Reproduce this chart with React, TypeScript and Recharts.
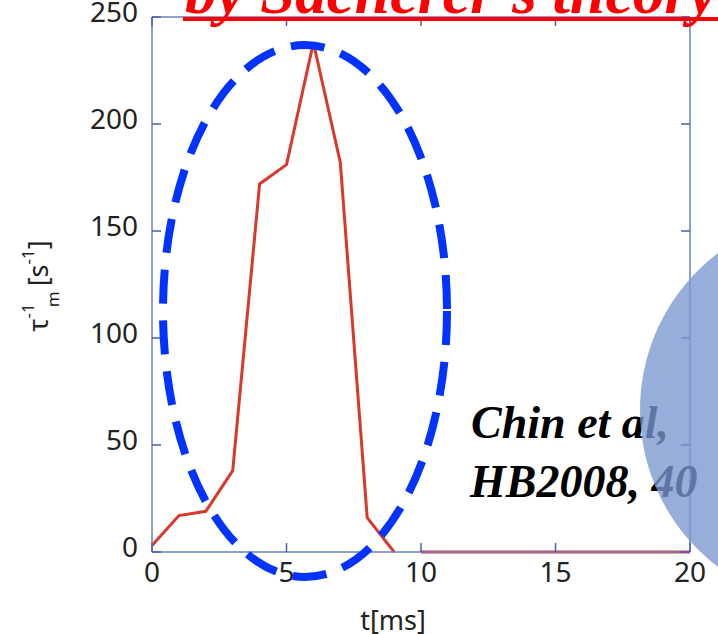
import { Label, Line, LineChart, XAxis, YAxis } from 'recharts';

// growth rate vs time, 1 ms steps
const times = [0, 1, 2, 3, 4, 5, 6, 7, 8, 9, 10, 11, 12, 13, 14, 15, 16, 17, 18, 19, 20];
const rateEarly = [3, 17, 19, 38, 172, 181, 238, 182, 16, 0];
const rateLate = [0, 0, 0, 0, 0, 0, 0, 0, 0, 0, 0];
const lateStart = 10;

const xTicks = [0, 5, 10, 15, 20];
const yTicks = [0, 50, 100, 150, 200, 250];

const data = times.map((t, i) => ({
    t,
    early: i < rateEarly.length ? rateEarly[i] : null,
    late: t >= lateStart ? rateLate[t - lateStart] : null,
}));

const W = 718;
const H = 634;
const margin = { top: 17, right: 28, bottom: 0, left: 0 };
const Y_AXIS_W = 152;
const X_AXIS_H = 82;
// plot box edges
const LEFT = margin.left + Y_AXIS_W;
const RIGHT = W - margin.right;
const TOP = margin.top;
const BOTTOM = H - margin.bottom - X_AXIS_H;

const FRAME = '#6b7fc0';
const TICK = '#4a5eb0';
const TICK_LEN = 9;
const tickFont = { fontSize: 28, fill: '#222', fontFamily: 'Noto Sans' };

// tick labels outside, tick marks pointing inward on both sides of the box
const XTick = (props: any) => {
    const { x, y, payload } = props;
    return (
        <g>
            <line x1={x} x2={x} y1={BOTTOM} y2={BOTTOM - TICK_LEN} stroke={TICK} strokeWidth={1.5} />
            <line x1={x} x2={x} y1={TOP} y2={TOP + TICK_LEN} stroke={TICK} strokeWidth={1.5} />
            <text x={x} y={y} dy="0.71em" textAnchor="middle" {...tickFont}>
                {payload.value}
            </text>
        </g>
    );
};

const YTick = (props: any) => {
    const { x, y, payload } = props;
    return (
        <g>
            <line x1={LEFT} x2={LEFT + TICK_LEN} y1={y} y2={y} stroke={TICK} strokeWidth={1.5} />
            <line x1={RIGHT} x2={RIGHT - TICK_LEN} y1={y} y2={y} stroke={TICK} strokeWidth={1.5} />
            <text x={x} y={y - 5} dy="0.355em" textAnchor="end" {...tickFont}>
                {payload.value}
            </text>
        </g>
    );
};

const YTitle = () => {
    const cx = 48;
    const cy = 286;
    return (
        <text
            transform={`rotate(-90, ${cx}, ${cy})`}
            x={cx}
            y={cy}
            textAnchor="middle"
            fill="#222"
            fontFamily="Noto Sans"
        >
            <tspan fontSize={27}>τ</tspan>
            <tspan fontSize={17} dy={-14}>-1</tspan>
            <tspan fontSize={17} dx={-4} dy={25}>m</tspan>
            <tspan fontSize={27} dx={5} dy={-11}>[s</tspan>
            <tspan fontSize={17} dy={-14}>-1</tspan>
            <tspan fontSize={27} dy={14}>]</tspan>
        </text>
    );
};

export default function App() {
    return (
        <div style={{ position: 'absolute', left: 0, top: 0, width: W, height: H, background: '#fff' }}>
            <LineChart width={W} height={H} data={data} margin={margin}>
                <XAxis
                    xAxisId="b"
                    dataKey="t"
                    type="number"
                    domain={[0, 20]}
                    ticks={xTicks}
                    stroke={FRAME}
                    strokeWidth={1.5}
                    tickLine={false}
                    tickSize={0}
                    tickMargin={10}
                    tick={XTick}
                    height={X_AXIS_H}
                >
                    <Label value="t[ms]" position="insideBottom" offset={4} dx={-28} style={{ fontSize: 27, fill: '#222', fontFamily: 'Noto Sans' }} />
                </XAxis>
                <XAxis
                    xAxisId="top"
                    orientation="top"
                    dataKey="t"
                    type="number"
                    domain={[0, 20]}
                    mirror
                    stroke={FRAME}
                    strokeWidth={1.5}
                    tick={false}
                    tickLine={false}
                />
                <YAxis
                    yAxisId="l"
                    domain={[0, 250]}
                    ticks={yTicks}
                    width={Y_AXIS_W}
                    stroke={FRAME}
                    strokeWidth={1.5}
                    tickLine={false}
                    tickSize={0}
                    tickMargin={14}
                    tick={YTick}
                >
                    <Label content={YTitle} />
                </YAxis>
                <YAxis
                    yAxisId="r"
                    orientation="right"
                    domain={[0, 250]}
                    mirror
                    stroke={FRAME}
                    strokeWidth={1.5}
                    tick={false}
                    tickLine={false}
                />
                <Line
                    xAxisId="b"
                    yAxisId="l"
                    dataKey="early"
                    stroke="#d8392b"
                    strokeWidth={3}
                    dot={false}
                    isAnimationActive={false}
                />
                <Line
                    xAxisId="b"
                    yAxisId="l"
                    dataKey="late"
                    stroke="#d8392b"
                    strokeWidth={3}
                    dot={false}
                    isAnimationActive={false}
                />
            </LineChart>
            <svg width={W} height={H} style={{ position: 'absolute', left: 0, top: 0, pointerEvents: 'none' }}>
                <text x={185} y={13} fontSize={63} fontWeight="bold" fontStyle="italic" fontFamily="Liberation Serif" fill="#ff0000">
                    by Sacherer's theory
                </text>
                <line x1={183} x2={W} y1={19} y2={19} stroke="#ff0000" strokeWidth={4} />
                <ellipse cx={305} cy={311} rx={142} ry={266} fill="none" stroke="#0033ff" strokeWidth={8} strokeDasharray="34 17" />
                <g fontFamily="Liberation Serif" fontWeight="bold" fontStyle="italic" fontSize={46} fill="#000">
                    <text x={471} y={438}>Chin et al,</text>
                    <text x={470} y={497}>HB2008, 40</text>
                </g>
                <circle cx={837} cy={410} r={197} fill="#7b97cf" fillOpacity={0.78} />
            </svg>
        </div>
    );
}
